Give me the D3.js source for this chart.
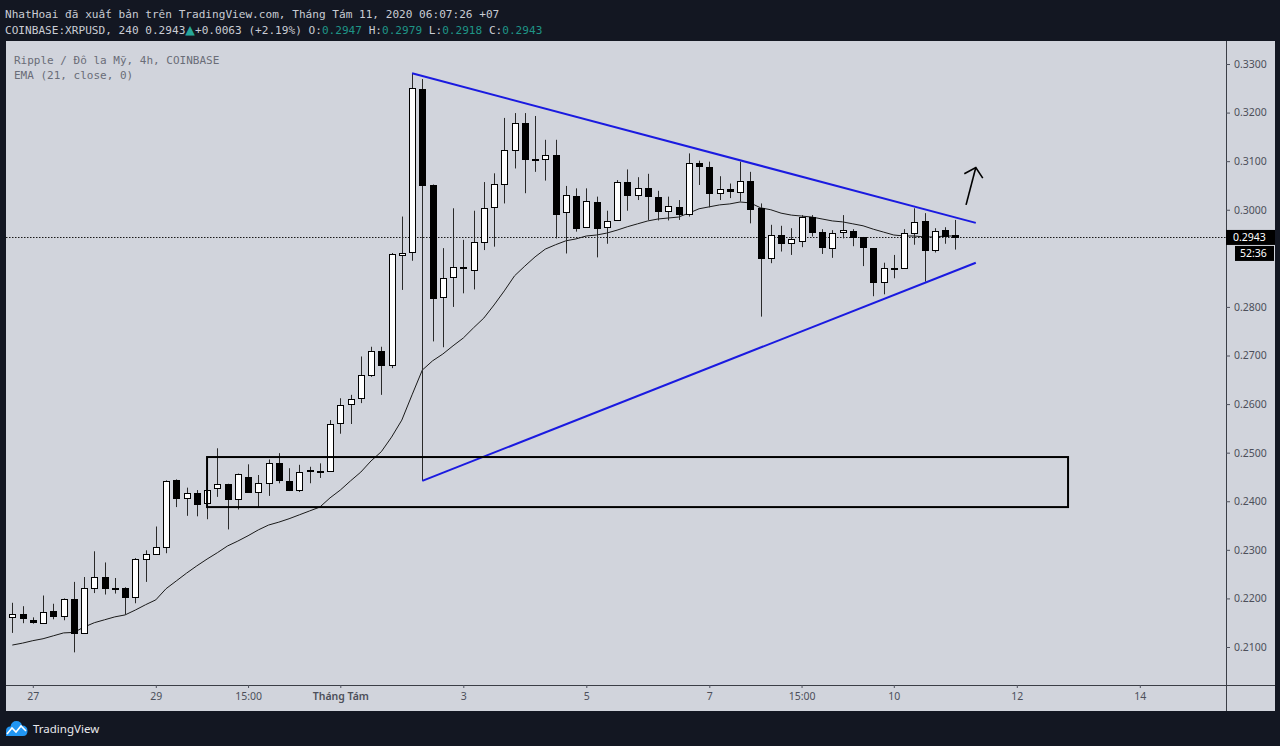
<!DOCTYPE html>
<html><head><meta charset="utf-8">
<script src="https://cdn.jsdelivr.net/npm/d3@7"></script>
<style>html,body{margin:0;padding:0;background:#131722;overflow:hidden}svg{display:block}text{white-space:pre}</style>
</head><body><svg id="c" width="1280" height="746"></svg>
<script>
// ---- data ----
const opens  = [0.2160,0.2167,0.2156,0.2151,0.2175,0.2164,0.2199,0.2129,0.2222,0.2245,0.2222,0.2222,0.2204,0.2282,0.2292,0.2306,0.2443,0.2406,0.2418,0.2396,0.2427,0.2435,0.2405,0.2450,0.2419,0.2437,0.2478,0.2442,0.2423,0.2462,0.2462,0.2463,0.2560,0.2600,0.2612,0.2660,0.2709,0.2681,0.2907,0.2912,0.3249,0.3051,0.2820,0.2861,0.2882,0.2877,0.2934,0.3005,0.3053,0.3123,0.3178,0.3104,0.3104,0.3113,0.2995,0.3028,0.2964,0.3015,0.2964,0.2978,0.3057,0.3030,0.3045,0.3027,0.2997,0.3006,0.2991,0.3097,0.3087,0.3034,0.3043,0.3038,0.3060,0.3003,0.2900,0.2947,0.2931,0.2936,0.2985,0.2955,0.2923,0.2953,0.2957,0.2943,0.2921,0.2851,0.2879,0.2880,0.2953,0.2977,0.2917,0.2958,0.2947];
const highs  = [0.2191,0.2184,0.2161,0.2206,0.2189,0.2200,0.2234,0.2244,0.2297,0.2274,0.2242,0.2223,0.2283,0.2299,0.2348,0.2443,0.2445,0.2428,0.2423,0.2425,0.2509,0.2436,0.2457,0.2476,0.2454,0.2486,0.2499,0.2468,0.2475,0.2471,0.2478,0.2567,0.2612,0.2619,0.2698,0.2718,0.2718,0.2911,0.2986,0.3281,0.3269,0.3052,0.2921,0.3003,0.2938,0.2998,0.3057,0.3075,0.3189,0.3199,0.3199,0.3193,0.3144,0.3144,0.3049,0.3044,0.3044,0.3027,0.2998,0.3061,0.3083,0.3067,0.3074,0.3039,0.3027,0.3020,0.3116,0.3101,0.3099,0.3069,0.3054,0.3099,0.3078,0.3013,0.2969,0.2967,0.2962,0.2989,0.2989,0.2960,0.2958,0.2989,0.2960,0.2944,0.2921,0.2891,0.2907,0.2960,0.3003,0.2993,0.2962,0.2964,0.2979];
const lows   = [0.2129,0.2149,0.2148,0.2150,0.2157,0.2155,0.2089,0.2128,0.2211,0.2208,0.2210,0.2167,0.2190,0.2234,0.2290,0.2293,0.2388,0.2370,0.2369,0.2363,0.2409,0.2342,0.2383,0.2419,0.2388,0.2411,0.2437,0.2421,0.2419,0.2437,0.2448,0.2462,0.2539,0.2559,0.2602,0.2656,0.2619,0.2674,0.2835,0.2895,0.2442,0.2729,0.2717,0.2800,0.2828,0.2836,0.2917,0.2924,0.3013,0.3085,0.3034,0.3078,0.3060,0.2941,0.2910,0.2955,0.2963,0.2902,0.2930,0.2977,0.2998,0.3020,0.2979,0.2978,0.2978,0.2979,0.2986,0.3051,0.3005,0.3020,0.3024,0.3017,0.2972,0.2780,0.2890,0.2914,0.2907,0.2923,0.2945,0.2909,0.2901,0.2941,0.2925,0.2884,0.2822,0.2826,0.2859,0.2880,0.2928,0.2852,0.2912,0.2930,0.2918];
const closes = [0.2167,0.2158,0.2152,0.2173,0.2164,0.2199,0.2129,0.2221,0.2245,0.2223,0.2221,0.2203,0.2282,0.2292,0.2306,0.2442,0.2406,0.2416,0.2396,0.2423,0.2435,0.2405,0.2456,0.2419,0.2437,0.2478,0.2442,0.2423,0.2460,0.2464,0.2463,0.2560,0.2598,0.2610,0.2660,0.2709,0.2681,0.2909,0.2912,0.3250,0.3051,0.2818,0.2859,0.2882,0.2883,0.2934,0.3003,0.3052,0.3122,0.3178,0.3104,0.3103,0.3113,0.2991,0.3030,0.2962,0.3017,0.2962,0.2977,0.3057,0.3030,0.3045,0.3028,0.2998,0.3008,0.2991,0.3097,0.3090,0.3034,0.3042,0.3038,0.3060,0.3003,0.2901,0.2947,0.2930,0.2939,0.2985,0.2955,0.2924,0.2953,0.2958,0.2945,0.2923,0.2851,0.2880,0.2881,0.2952,0.2975,0.2917,0.2957,0.2946,0.2943];
const ema21  = [0.2104,0.2108,0.2113,0.2117,0.2123,0.2129,0.2130,0.2141,0.2150,0.2156,0.2162,0.2166,0.2176,0.2187,0.2197,0.2220,0.2236,0.2252,0.2267,0.2281,0.2294,0.2308,0.2318,0.2329,0.2341,0.2351,0.2357,0.2364,0.2372,0.2380,0.2388,0.2407,0.2423,0.2442,0.2460,0.2483,0.2502,0.2532,0.2567,0.2619,0.2670,0.2689,0.2703,0.2720,0.2736,0.2757,0.2777,0.2804,0.2833,0.2864,0.2884,0.2903,0.2919,0.2928,0.2936,0.2940,0.2946,0.2948,0.2952,0.2958,0.2965,0.2971,0.2977,0.2981,0.2983,0.2985,0.2993,0.3002,0.3006,0.3010,0.3012,0.3016,0.3014,0.3004,0.3000,0.2993,0.2989,0.2987,0.2985,0.2981,0.2977,0.2975,0.2971,0.2967,0.2960,0.2954,0.2948,0.2946,0.2946,0.2944,0.2944,0.2946,0.2946];
const priceTicks = [0.33,0.32,0.31,0.30,0.28,0.27,0.26,0.25,0.24,0.23,0.22,0.21];
const timeTickIdx = [2,14,23,32,44,56,68,77,86,98,110];
const timeTickLabels = ["27","29","15:00","Tháng Tám","3","5","7","15:00","10","12","14"];
const lastPrice = 0.2943;
const countdown = "52:36";
// drawings (candle index, price)
const trendDown = [[39,0.3281],[94,0.2973]];
const trendUp   = [[40,0.2442],[94,0.2891]];
const zoneBox   = [[19,0.2491],[103,0.2388]];
const arrowShaft = [[93.05,0.3010],[94.0,0.3087]];
const arrowHead  = [[92.88,0.3074],[94.0,0.3087],[94.68,0.3065]];

// ---- layout ----
const svg = d3.select("#c");
const P = {l:6, r:1226, t:41, b:685, axR:1275, axB:711};
const x = d3.scaleLinear().domain([0,92]).range([12.3,955.3]);
const y = d3.scaleLinear().domain([0.21,0.33]).range([647,64]);
const mono = "'DejaVu Sans Mono','Liberation Mono',monospace";
const sans = "'Noto Sans','Open Sans',sans-serif";

svg.append("rect").attr("width",1280).attr("height",746).attr("fill","#131722");
svg.append("rect").attr("x",P.l).attr("y",P.t).attr("width",P.axR-P.l).attr("height",P.axB-P.t).attr("fill","#d1d4dc");

// header
svg.append("text").attr("x",5).attr("y",18).attr("fill","#c9ccd4").attr("font-family",mono).attr("font-size",11.1)
  .text("NhatHoai đã xuất bản trên TradingView.com, Tháng Tám 11, 2020 06:07:26 +07");
const h2 = svg.append("text").attr("x",5).attr("y",34).attr("font-family",mono).attr("font-size",11.1).attr("fill","#c9ccd4");
const teal = "#1f9486";
[["COINBASE:XRPUSD, 240 0.2943",null,null],["▲","#26a69a","'DejaVu Sans'"],["+0.0063 (+2.19%) O:",null,null],["0.2947",teal,null],[" H:",null,null],["0.2979",teal,null],[" L:",null,null],["0.2918",teal,null],[" C:",null,null],["0.2943",teal,null]]
 .forEach(([t,c,f])=>{const s=h2.append("tspan").text(t); if(c) s.attr("fill",c); if(f) s.attr("font-family",f).attr("font-size",12.5);});

// clip
svg.append("clipPath").attr("id","plot").append("rect").attr("x",P.l).attr("y",P.t).attr("width",P.r-P.l).attr("height",P.b-P.t);
const g = svg.append("g").attr("clip-path","url(#plot)");

// legend text
g.append("text").attr("x",14).attr("y",64).attr("fill","#6a6d78").attr("font-family",mono).attr("font-size",11).text("Ripple / Đô la Mỹ, 4h, COINBASE");
g.append("text").attr("x",14).attr("y",79).attr("fill","#6a6d78").attr("font-family",mono).attr("font-size",11).text("EMA (21, close, 0)");

// last price dotted line
g.append("line").attr("x1",P.l).attr("x2",P.r).attr("y1",Math.round(y(lastPrice))+0.5).attr("y2",Math.round(y(lastPrice))+0.5)
  .attr("stroke","#1a1a1a").attr("stroke-width",1).attr("stroke-dasharray","1.5,1.5");

// EMA
g.append("path").datum(ema21).attr("fill","none").attr("stroke","#1a1a1a").attr("stroke-width",1)
  .attr("d",d3.line().x((d,i)=>x(i)).y(d=>y(d)));

// candles
const idx = d3.range(opens.length);
const cg = g.append("g");
cg.selectAll("line.w").data(idx).join("line").attr("class","w")
  .attr("x1",i=>Math.round(x(i))+0.5).attr("x2",i=>Math.round(x(i))+0.5)
  .attr("y1",i=>y(highs[i])).attr("y2",i=>y(lows[i])).attr("stroke","#2a2a2a").attr("stroke-width",1);
cg.selectAll("rect.b").data(idx).join("rect").attr("class","b")
  .attr("x",i=>Math.round(x(i))-2.5).attr("width",6)
  .attr("y",i=>Math.round(y(Math.max(opens[i],closes[i])))+0.5)
  .attr("height",i=>Math.max(1,Math.round(Math.abs(y(opens[i])-y(closes[i])))))
  .attr("fill",i=>closes[i]>=opens[i]?"#ffffff":"#000000").attr("stroke","#000").attr("stroke-width",1);

// drawings
const ln = d3.line().x(d=>x(d[0])).y(d=>y(d[1]));
g.append("path").datum(trendDown).attr("d",ln).attr("stroke","#1a1ae0").attr("stroke-width",2).attr("fill","none");
g.append("path").datum(trendUp).attr("d",ln).attr("stroke","#1a1ae0").attr("stroke-width",2).attr("fill","none");
g.append("rect").attr("x",x(zoneBox[0][0])).attr("y",y(zoneBox[0][1])).attr("width",x(zoneBox[1][0])-x(zoneBox[0][0]))
  .attr("height",y(zoneBox[1][1])-y(zoneBox[0][1])).attr("fill","none").attr("stroke","#000").attr("stroke-width",2);
g.append("path").datum(arrowShaft).attr("d",ln).attr("stroke","#000").attr("stroke-width",1.6).attr("fill","none");
g.append("path").datum(arrowHead).attr("d",ln).attr("stroke","#000").attr("stroke-width",1.6).attr("fill","none");

// axes frame
svg.append("line").attr("x1",P.r+0.5).attr("x2",P.r+0.5).attr("y1",P.t).attr("y2",P.axB).attr("stroke","#3b3e46");
svg.append("line").attr("x1",P.l).attr("x2",P.axR).attr("y1",P.b+0.5).attr("y2",P.b+0.5).attr("stroke","#3b3e46");

// price axis
const ya = svg.append("g").attr("transform",`translate(${P.r},0)`)
  .call(d3.axisRight(y).tickValues(priceTicks).tickFormat(d3.format(".4f")).tickSize(4).tickPadding(4));
ya.select(".domain").remove();
ya.selectAll(".tick line").attr("stroke","#50535e");
ya.selectAll(".tick text").attr("fill","#4c4f5a").attr("font-family",sans).attr("font-size",10.5);

// time axis
const xa = svg.append("g").attr("transform",`translate(0,${P.b})`)
  .call(d3.axisBottom(x).tickValues(timeTickIdx).tickFormat((d,i)=>timeTickLabels[i]).tickSize(3).tickPadding(5));
xa.select(".domain").remove();
xa.selectAll(".tick line").attr("stroke","#50535e");
xa.selectAll(".tick text").attr("fill","#4c4f5a").attr("font-family",sans).attr("font-size",10.5)
  .attr("font-weight",(d,i)=>timeTickLabels[i]==="Tháng Tám"?600:400);

// last price labels
const ly = y(lastPrice);
svg.append("rect").attr("x",P.r).attr("y",ly-7.5).attr("width",P.axR-P.r).attr("height",15).attr("fill","#000");
svg.append("text").attr("x",P.r+7).attr("y",ly+4).attr("fill","#fff").attr("font-family",sans).attr("font-size",10.5).text(d3.format(".4f")(lastPrice));
svg.append("rect").attr("x",P.r+9).attr("y",ly+8.5).attr("width",P.axR-P.r-10).attr("height",15).attr("fill","#000");
svg.append("text").attr("x",P.r+14).attr("y",ly+20).attr("fill","#fff").attr("font-family",sans).attr("font-size",10.5).text(countdown);

// logo
const lg = svg.append("g");
lg.append("path").attr("d","M6,736 L6,731 Q6,726.5 10.5,726.5 Q11.5,721 16.5,721 Q21,721 22,725.5 Q27.5,725.5 27.5,731 Q27.5,736 23,736 Z").attr("fill","#2196f3");
lg.append("path").attr("d","M7,734 L12,728 L16,732 L21,726 L26,731").attr("fill","none").attr("stroke","#fff").attr("stroke-width",1.6);
svg.append("text").attr("x",33).attr("y",732.5).attr("fill","#e8e9ed").attr("font-family",sans).attr("font-size",11.5).text("TradingView");
</script></body></html>
